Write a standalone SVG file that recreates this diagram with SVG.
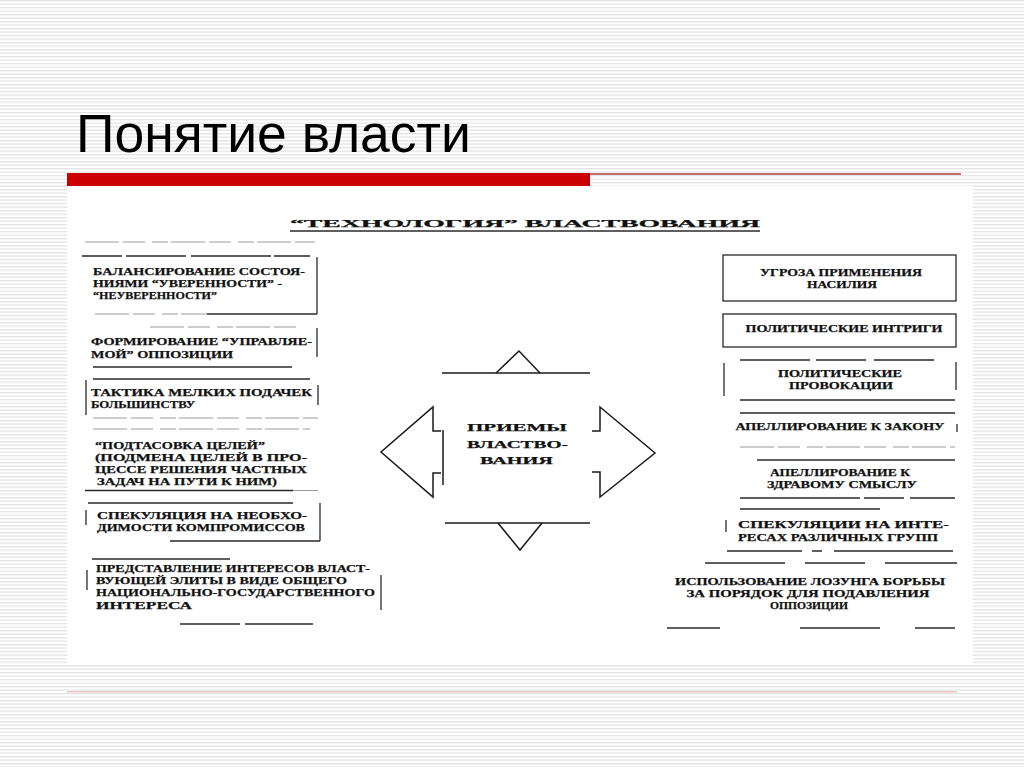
<svg xmlns="http://www.w3.org/2000/svg" width="1024" height="767" viewBox="0 0 1024 767">
<defs>
<pattern id="stripes" x="0" y="0" width="8" height="3.5" patternUnits="userSpaceOnUse">
<rect x="0" y="0" width="8" height="1.3" fill="#e3e3e3"/>
</pattern>
</defs>
<style>
.t{font-family:"Liberation Serif","Times New Roman",serif;font-weight:bold;font-size:11px;fill:#111;stroke:#111;stroke-width:0.25}
.c{text-anchor:middle}
.ln{stroke:#2a2a2a;stroke-width:1.3;fill:none}
.fa{stroke:#9a9a9a;stroke-width:1;fill:none;stroke-dasharray:34 4 22 7 16 3}
.ar{stroke:#1a1a1a;stroke-width:1.5;fill:none;stroke-linejoin:miter}
</style>
<rect width="1024" height="767" fill="#ffffff"/>
<rect width="1024" height="767" fill="url(#stripes)"/>
<rect x="67" y="186" width="906" height="479" fill="#ffffff"/>
<text x="76" y="152" font-family="Liberation Sans, Arial, sans-serif" font-size="54" fill="#000" textLength="395" lengthAdjust="spacingAndGlyphs">Понятие власти</text>
<rect x="67" y="173" width="523" height="13" fill="#cc0000"/>
<rect x="590" y="173" width="371" height="2" fill="#c07070"/>
<rect x="67" y="691" width="890" height="1.5" fill="#f2c4c4"/>

<g id="heading">
<text class="t" x="290" y="227" font-size="24" textLength="470" lengthAdjust="spacingAndGlyphs">“ТЕХНОЛОГИЯ” ВЛАСТВОВАНИЯ</text>
<line class="ln" x1="290" y1="231" x2="760" y2="231" stroke-width="1.6"/>
</g>

<g id="left-1">
<line class="fa" x1="85" y1="242" x2="315" y2="242" stroke="#c4c4c4"/>
<line class="ln" x1="82" y1="256" x2="310" y2="256" stroke-dasharray="40 4 60 5 80 3"/>
<line class="ln" x1="317" y1="257" x2="317" y2="314"/>
<line class="fa" x1="95" y1="314" x2="207" y2="314"/>
<line class="ln" x1="207" y1="314" x2="317" y2="314"/>
<text class="t" x="93" y="274.8" textLength="212" lengthAdjust="spacingAndGlyphs">БАЛАНСИРОВАНИЕ СОСТОЯ-</text>
<text class="t" x="93" y="287" textLength="189" lengthAdjust="spacingAndGlyphs">НИЯМИ “УВЕРЕННОСТИ” -</text>
<text class="t" x="93" y="299.2" textLength="124" lengthAdjust="spacingAndGlyphs">“НЕУВЕРЕННОСТИ”</text>
</g>

<g id="left-2">
<line class="fa" x1="150" y1="327" x2="300" y2="327"/>
<line class="ln" x1="317" y1="328" x2="317" y2="357"/>
<text class="t" x="91" y="345.4" textLength="221" lengthAdjust="spacingAndGlyphs">ФОРМИРОВАНИЕ “УПРАВЛЯЕ-</text>
<text class="t" x="91" y="357.6" textLength="142" lengthAdjust="spacingAndGlyphs">МОЙ” ОППОЗИЦИИ</text>
<line class="ln" x1="93" y1="367" x2="292" y2="367"/>
</g>

<g id="left-3">
<line class="ln" x1="93" y1="379" x2="310" y2="379"/>
<line class="ln" x1="86" y1="380" x2="86" y2="415"/>
<line class="ln" x1="318" y1="385" x2="318" y2="405"/>
<text class="t" x="91" y="395.5" textLength="221" lengthAdjust="spacingAndGlyphs">ТАКТИКА МЕЛКИХ ПОДАЧЕК</text>
<text class="t" x="91" y="407.7" textLength="104" lengthAdjust="spacingAndGlyphs">БОЛЬШИНСТВУ</text>
<line class="fa" x1="93" y1="418" x2="318" y2="418"/>
</g>

<g id="left-4">
<line class="fa" x1="93" y1="429" x2="310" y2="429"/>
<text class="t" x="95" y="448.8" textLength="170" lengthAdjust="spacingAndGlyphs">“ПОДТАСОВКА ЦЕЛЕЙ”</text>
<text class="t" x="95" y="461" textLength="212" lengthAdjust="spacingAndGlyphs">(ПОДМЕНА ЦЕЛЕЙ В ПРО-</text>
<text class="t" x="95" y="473.2" textLength="212" lengthAdjust="spacingAndGlyphs">ЦЕССЕ  РЕШЕНИЯ ЧАСТНЫХ</text>
<text class="t" x="97" y="485.4" textLength="180" lengthAdjust="spacingAndGlyphs">ЗАДАЧ НА ПУТИ К НИМ)</text>
<line class="ln" x1="85" y1="490.5" x2="293" y2="490.5"/>
<line class="fa" x1="293" y1="490.5" x2="318" y2="490.5"/>
</g>

<g id="left-5">
<line class="ln" x1="88" y1="503" x2="293" y2="503"/>
<line class="ln" x1="86" y1="510" x2="86" y2="525"/>
<line class="ln" x1="320" y1="503" x2="320" y2="541"/>
<text class="t" x="97" y="519" textLength="210" lengthAdjust="spacingAndGlyphs">СПЕКУЛЯЦИЯ НА НЕОБХО-</text>
<text class="t" x="97" y="531.2" textLength="208" lengthAdjust="spacingAndGlyphs">ДИМОСТИ КОМПРОМИССОВ</text>
<line class="ln" x1="170" y1="541" x2="320" y2="541"/>
</g>

<g id="left-6">
<line class="ln" x1="92" y1="559" x2="230" y2="559"/>
<line class="ln" x1="87" y1="570" x2="87" y2="590"/>
<line class="ln" x1="381" y1="575" x2="381" y2="610"/>
<text class="t" x="96" y="571.9" textLength="274" lengthAdjust="spacingAndGlyphs">ПРЕДСТАВЛЕНИЕ ИНТЕРЕСОВ ВЛАСТ-</text>
<text class="t" x="96" y="584.1" textLength="251" lengthAdjust="spacingAndGlyphs">ВУЮЩЕЙ ЭЛИТЫ В ВИДЕ ОБЩЕГО</text>
<text class="t" x="96" y="596.3" textLength="279" lengthAdjust="spacingAndGlyphs">НАЦИОНАЛЬНО-ГОСУДАРСТВЕННОГО</text>
<text class="t" x="96" y="608.5" textLength="96" lengthAdjust="spacingAndGlyphs">ИНТЕРЕСА</text>
<line class="ln" x1="180" y1="624" x2="313" y2="624" stroke-dasharray="60 5 70"/>
</g>

<g id="right-1">
<rect class="ln" x="723" y="255" width="233" height="46"/>
<text class="t c" x="841" y="275.5" textLength="162" lengthAdjust="spacingAndGlyphs">УГРОЗА ПРИМЕНЕНИЯ</text>
<text class="t c" x="842" y="287.7" textLength="70" lengthAdjust="spacingAndGlyphs">НАСИЛИЯ</text>
</g>

<g id="right-2">
<rect class="ln" x="723" y="314" width="233" height="33"/>
<text class="t c" x="844" y="331.6" textLength="197" lengthAdjust="spacingAndGlyphs">ПОЛИТИЧЕСКИЕ ИНТРИГИ</text>
</g>

<g id="right-3">
<line class="ln" x1="740" y1="360" x2="945" y2="360" stroke-dasharray="70 6 50 8 60"/>
<line class="ln" x1="724" y1="363" x2="724" y2="396"/>
<line class="ln" x1="956" y1="362" x2="956" y2="390"/>
<text class="t c" x="840" y="376.5" textLength="124" lengthAdjust="spacingAndGlyphs">ПОЛИТИЧЕСКИЕ</text>
<text class="t c" x="841" y="388.7" textLength="104" lengthAdjust="spacingAndGlyphs">ПРОВОКАЦИИ</text>
<line class="ln" x1="740" y1="400" x2="955" y2="400"/>
</g>

<g id="right-4">
<line class="ln" x1="740" y1="413" x2="955" y2="413"/>
<text class="t c" x="840" y="429.6" textLength="209" lengthAdjust="spacingAndGlyphs">АПЕЛЛИРОВАНИЕ К ЗАКОНУ</text>
<line class="ln" x1="957" y1="424" x2="957" y2="432"/>
<line class="fa" x1="740" y1="447" x2="955" y2="447"/>
</g>

<g id="right-5">
<line class="ln" x1="757" y1="460" x2="955" y2="460"/>
<text class="t c" x="840" y="476" textLength="140" lengthAdjust="spacingAndGlyphs">АПЕЛЛИРОВАНИЕ К</text>
<text class="t c" x="842" y="488.2" textLength="150" lengthAdjust="spacingAndGlyphs">ЗДРАВОМУ СМЫСЛУ</text>
<line class="ln" x1="740" y1="498" x2="955" y2="498" stroke-dasharray="120 4 40 6 50"/>
</g>

<g id="right-6">
<line class="ln" x1="740" y1="509" x2="880" y2="509"/>
<line class="ln" x1="726" y1="520" x2="726" y2="532"/>
<text class="t" x="738" y="528.3" textLength="211" lengthAdjust="spacingAndGlyphs">СПЕКУЛЯЦИИ НА ИНТЕ-</text>
<text class="t" x="738" y="540.5" textLength="200" lengthAdjust="spacingAndGlyphs">РЕСАХ  РАЗЛИЧНЫХ ГРУПП</text>
<line class="ln" x1="727" y1="551" x2="953" y2="551" stroke-dasharray="75 10 10 12 150"/>
</g>

<g id="right-7">
<line class="ln" x1="705" y1="563" x2="957" y2="563" stroke-dasharray="80 20 60 20 80"/>
<text class="t c" x="810" y="584.9" textLength="270" lengthAdjust="spacingAndGlyphs">ИСПОЛЬЗОВАНИЕ  ЛОЗУНГА БОРЬБЫ</text>
<text class="t c" x="808" y="597.1" textLength="243" lengthAdjust="spacingAndGlyphs">ЗА  ПОРЯДОК ДЛЯ ПОДАВЛЕНИЯ</text>
<text class="t c" x="809" y="609.3" textLength="78" lengthAdjust="spacingAndGlyphs">ОППОЗИЦИИ</text>
<line class="ln" x1="667" y1="628" x2="720" y2="628"/>
<line class="ln" x1="800" y1="628" x2="880" y2="628"/>
<line class="ln" x1="915" y1="628" x2="955" y2="628"/>
</g>

<g id="center">
<text class="t c" x="517" y="430.9" font-size="15" textLength="100" lengthAdjust="spacingAndGlyphs">ПРИЕМЫ</text>
<text class="t c" x="517.5" y="447.5" font-size="15" textLength="101" lengthAdjust="spacingAndGlyphs">ВЛАСТВО-</text>
<text class="t c" x="516.5" y="464.1" font-size="15" textLength="73" lengthAdjust="spacingAndGlyphs">ВАНИЯ</text>
</g>

<g id="connectors">
<line class="ar" x1="442" y1="373" x2="590" y2="373" stroke-width="1.2"/>
<polyline class="ar" points="496,373 519,351 540,373"/>
<line class="ar" x1="445" y1="523" x2="590" y2="523" stroke-width="1.2"/>
<polyline class="ar" points="498,523 520,550 542,523"/>
<polyline class="ar" points="441,431 433,431 433,407 381,452 433,497 433,473 441,473"/>
<line class="ar" x1="443" y1="430" x2="443" y2="485" stroke-width="1" stroke="#666"/>
<polyline class="ar" points="592,431 600,431 600,407 655,453 600,497 600,472 592,472"/>
</g>
</svg>
